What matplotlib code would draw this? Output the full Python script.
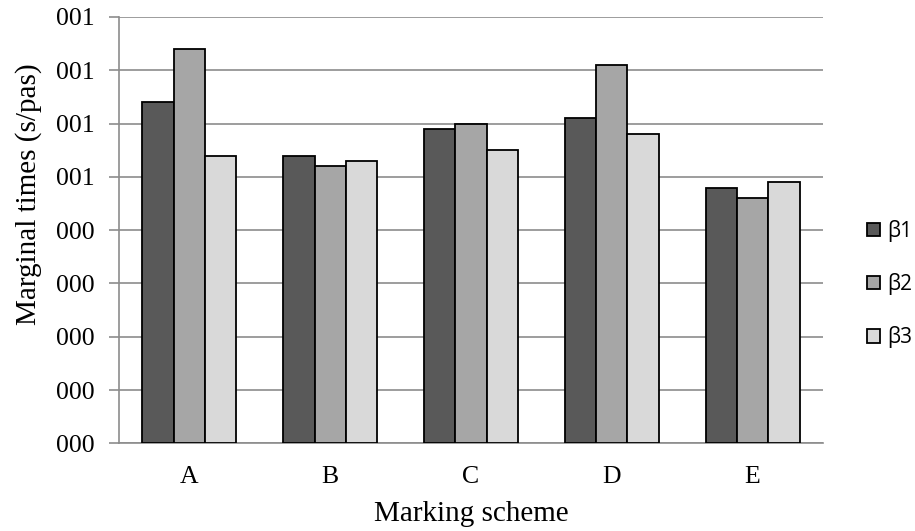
import matplotlib
matplotlib.use("Agg")
import matplotlib.pyplot as plt
import numpy as np
from matplotlib.patches import Patch

categories = ["A", "B", "C", "D", "E"]
series_names = ["β1", "β2", "β3"]
beta1 = [0.00064, 0.00054, 0.00059, 0.00061, 0.00048]
beta2 = [0.00074, 0.00052, 0.00060, 0.00071, 0.00046]
beta3 = [0.00054, 0.00053, 0.00055, 0.00058, 0.00049]
tick_values = [0.0000, 0.0001, 0.0002, 0.0003, 0.0004, 0.0005, 0.0006, 0.0007, 0.0008]
tick_labels = ["000", "000", "000", "000", "000", "001", "001", "001", "001"]
colors = ["#595959", "#a6a6a6", "#d9d9d9"]

fig = plt.figure(figsize=(9.15, 5.31), dpi=100)
ax = fig.add_axes([119/915, 1-443.3/531, (823-119)/915, (443.3-17)/531])

x = np.arange(len(categories))
w = 0.2222
for i, (vals, c) in enumerate(zip([beta1, beta2, beta3], colors)):
    ax.bar(x + (i-1)*w, vals, width=w, color=c, edgecolor="black", linewidth=1.3, zorder=3)

ax.set_xlim(-0.5, len(categories)-0.5)
ax.set_ylim(0, 0.0008)
ax.set_yticks(tick_values)
ax.set_yticklabels(tick_labels)
ax.set_xticks(x)
ax.set_xticklabels(categories)
ax.yaxis.grid(True, color="#8c8c8c", linewidth=1.2, zorder=0)
for s in ["top", "right"]:
    ax.spines[s].set_visible(False)
ax.spines["left"].set_color("#8c8c8c")
ax.spines["left"].set_linewidth(1.2)
ax.spines["bottom"].set_color("#8c8c8c")
ax.spines["bottom"].set_linewidth(1.2)
ax.tick_params(axis="y", length=7, width=1.2, color="#8c8c8c", pad=10.5,
               labelsize=18.5, labelfontfamily="Liberation Serif")
ax.tick_params(axis="x", length=0, pad=16.5, labelsize=18.5, labelfontfamily="Liberation Serif")
ax.set_ylabel("Marginal times (s/pas)", fontsize=21, family="Liberation Serif")
ax.yaxis.set_label_coords((42-119)/704, (443.3-194)/426.3)
ax.set_xlabel("Marking scheme", fontsize=21, family="Liberation Serif")
ax.xaxis.set_label_coords(0.5, (443.3-501)/426.3)

handles = [Patch(facecolor=c, edgecolor="black", linewidth=1.3) for c in colors]
fig.legend(handles, series_names, loc="center left", bbox_to_anchor=(867/915, 1-284/531),
           frameon=False, prop={"family": ["Open Sans", "DejaVu Sans"], "size": 15},
           handlelength=0.62, handleheight=0.62, handletextpad=0.33, labelspacing=1.5,
           borderpad=0, borderaxespad=0)

fig.savefig("out.png", dpi=100)
